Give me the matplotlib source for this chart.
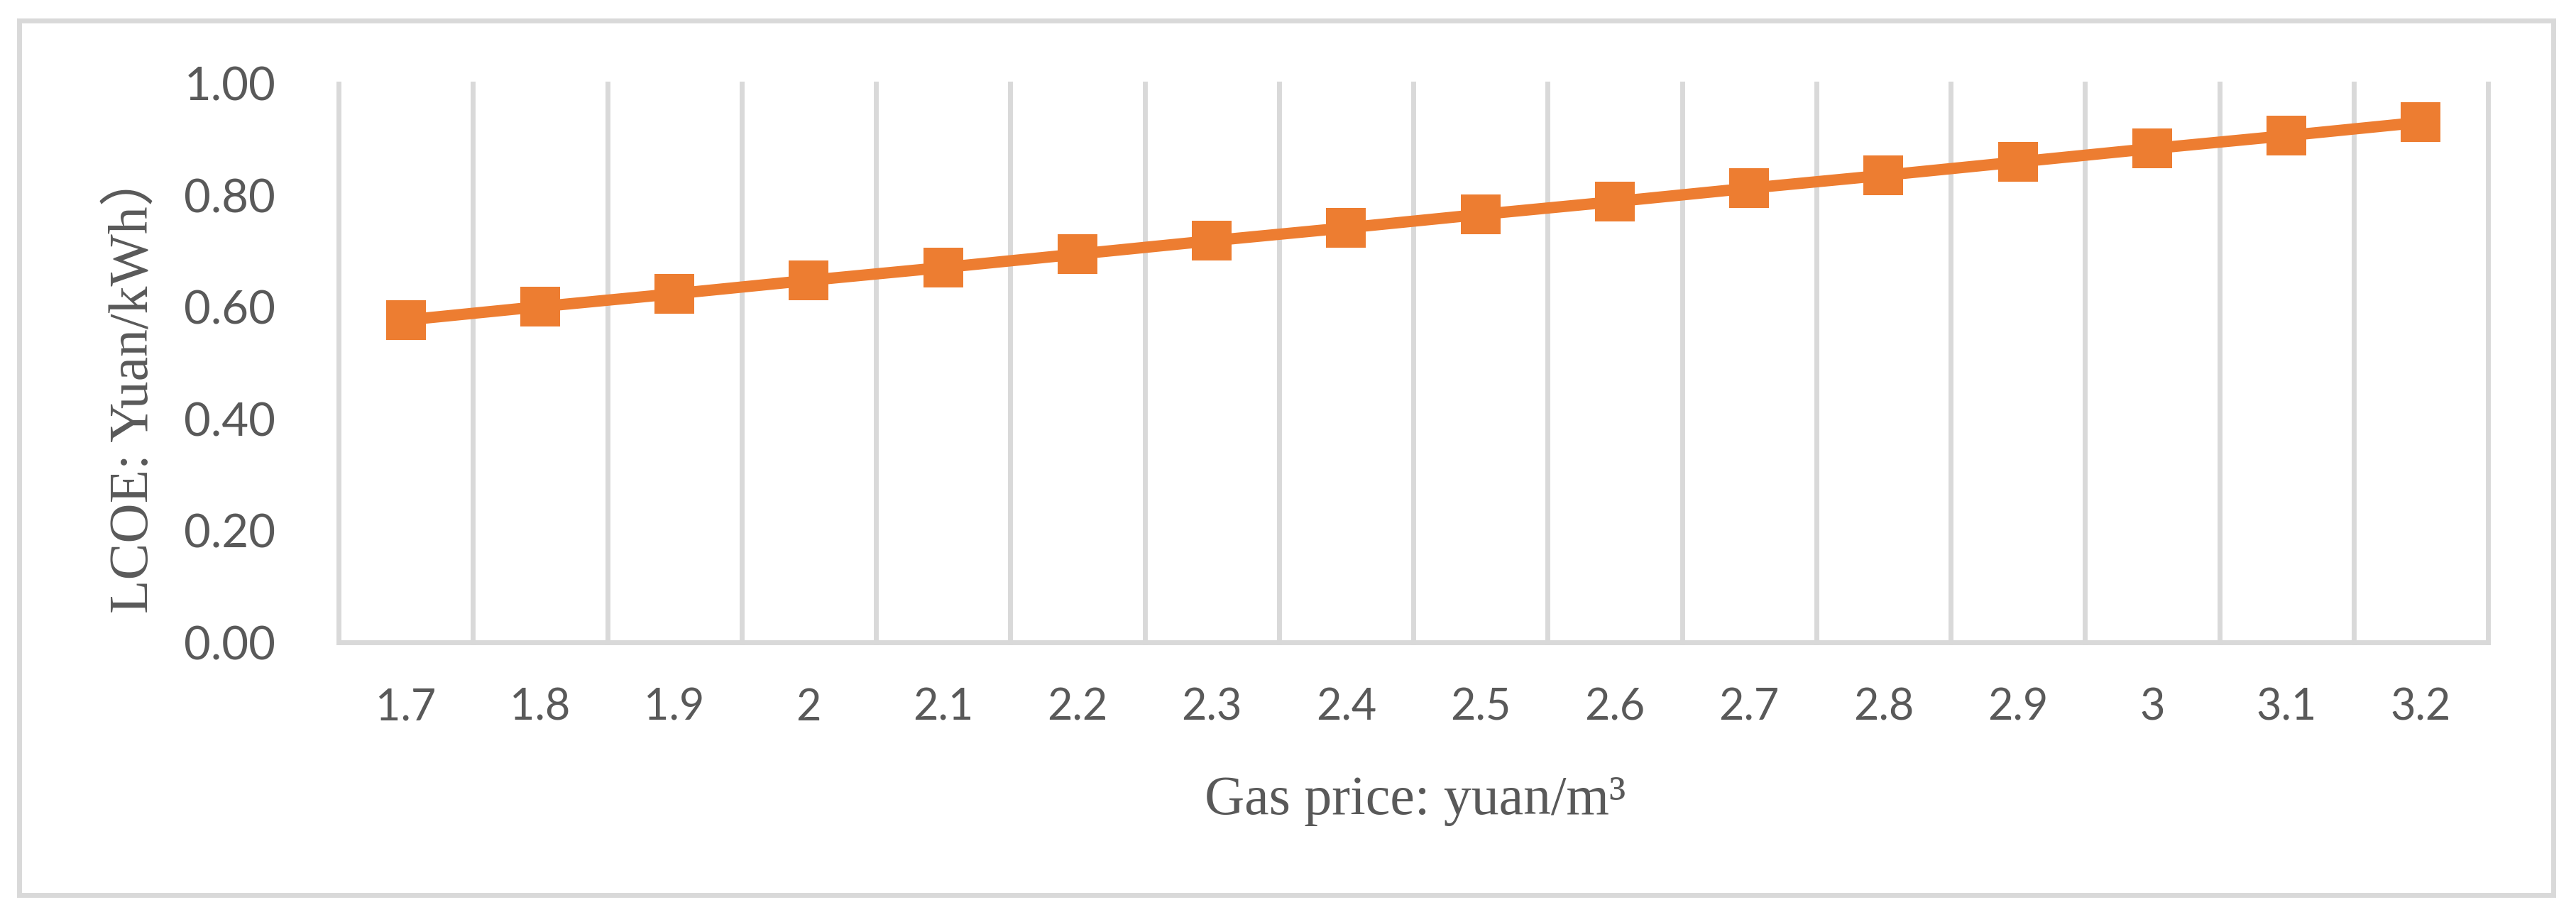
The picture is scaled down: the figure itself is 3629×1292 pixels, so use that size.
import matplotlib
matplotlib.use("Agg")
import matplotlib.pyplot as plt
from matplotlib.patches import Rectangle
import numpy as np

# ---- data ----
gas_price = ["1.7", "1.8", "1.9", "2", "2.1", "2.2", "2.3", "2.4",
             "2.5", "2.6", "2.7", "2.8", "2.9", "3", "3.1", "3.2"]
lcoe = [0.577, 0.601, 0.624, 0.648, 0.671, 0.695, 0.719, 0.742,
        0.766, 0.789, 0.813, 0.836, 0.860, 0.884, 0.907, 0.931]
y_ticks = [0.0, 0.2, 0.4, 0.6, 0.8, 1.0]
x_label = "Gas price: yuan/m³"
y_label = "LCOE: Yuan/kWh）"

W, H = 3629, 1292
DPI = 100
TEXT = "#595959"
GRID = "#D9D9D9"
ORANGE = "#ED7D31"

fig = plt.figure(figsize=(W / DPI, H / DPI), dpi=DPI)
fig.patch.set_facecolor("white")

# plot area in pixels
px_left, px_right, px_top, px_bottom = 477, 3505, 118, 905
ax = fig.add_axes([px_left / W, 1 - px_bottom / H,
                   (px_right - px_left) / W, (px_bottom - px_top) / H])

x = np.arange(len(gas_price))
ax.plot(x, lcoe, color=ORANGE, linewidth=11.5, marker="s",
        markersize=40, markeredgewidth=0, markerfacecolor=ORANGE,
        solid_capstyle="butt", zorder=5, clip_on=False)

ax.set_xlim(-0.5, len(gas_price) - 0.5)
ax.set_ylim(0, 1.0)

ax.set_xticks(x)
ax.set_xticklabels(gas_price)
ax.set_xticks(np.arange(-0.5, len(gas_price), 1.0), minor=True)
ax.set_yticks(y_ticks)
ax.set_yticklabels([f"{v:.2f}" for v in y_ticks])

ax.tick_params(axis="x", which="both", length=0, pad=46,
               labelsize=44, labelcolor=TEXT)
ax.tick_params(axis="y", which="both", length=0, pad=64,
               labelsize=47, labelcolor=TEXT)
for lab in ax.get_xticklabels() + ax.get_yticklabels():
    lab.set_fontfamily(["Lato", "DejaVu Sans"])

ax.grid(False)
ax.xaxis.grid(True, which="minor", color=GRID, linewidth=5)
for t in ax.xaxis.get_minor_ticks():
    t.gridline.set_clip_on(False)

for s in ["top", "right", "left"]:
    ax.spines[s].set_visible(False)
ax.spines["bottom"].set_color(GRID)
ax.spines["bottom"].set_linewidth(5)
ax.set_axisbelow(True)

# axis titles
fig.text(1994 / W, 1 - 1147 / H, x_label, ha="center", va="baseline",
         fontsize=56, color=TEXT,
         family=["Liberation Serif", "Noto Sans CJK SC"])
fig.text(209 / W, 1 - 538 / H, y_label, ha="center", va="baseline",
         rotation=90, rotation_mode="anchor", fontsize=56, color=TEXT,
         family=["Liberation Serif", "Noto Sans CJK SC"])

# outer chart border
fig.patches.append(Rectangle((26.5 / W, 1 - 1261 / H),
                             (3597 - 26.5) / W, (1261 - 29) / H,
                             transform=fig.transFigure, fill=False,
                             edgecolor=GRID, linewidth=5))

fig.savefig("out.png", dpi=DPI, facecolor="white")
